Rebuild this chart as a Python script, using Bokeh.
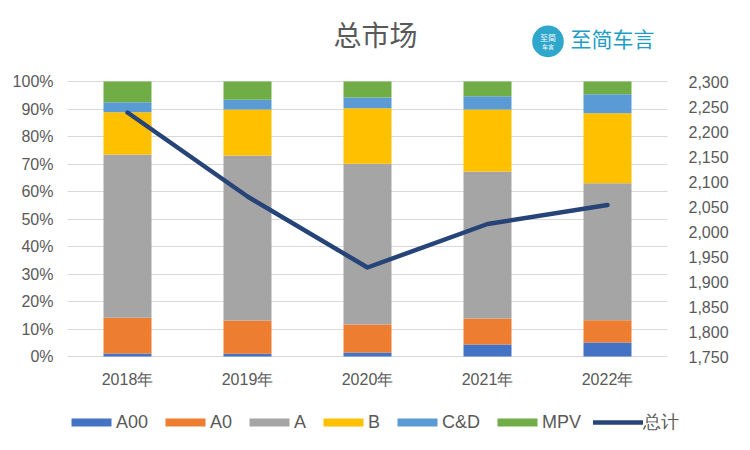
from bokeh.plotting import figure
from bokeh.models import (Range1d, LinearAxis, NumeralTickFormatter, FixedTicker, Legend,
                          LegendItem, Label, BoxAnnotation, ColumnDataSource, FactorRange)
from bokeh.embed import file_html
from bokeh.resources import INLINE

# ---- data ----
years = ["2018年", "2019年", "2020年", "2021年", "2022年"]
segments = ["A00", "A0", "A", "B", "C&D", "MPV"]
a00 = [1.1, 1.0, 1.5, 4.4, 5.1]      # % share
a0 = [13.0, 12.1, 10.1, 9.4, 8.1]
a = [59.4, 60.0, 58.5, 53.5, 49.8]
b = [15.3, 16.7, 20.2, 22.5, 25.5]
cd = [3.7, 3.6, 3.9, 4.8, 6.9]
mpv = [7.5, 6.6, 5.8, 5.4, 4.6]
totals = [2238, 2070, 1928, 2015, 2053]   # 总计
pct_ticks = [0, 0.1, 0.2, 0.3, 0.4, 0.5, 0.6, 0.7, 0.8, 0.9, 1.0]
total_ticks = [1750, 1800, 1850, 1900, 1950, 2000, 2050, 2100, 2150, 2200, 2250, 2300]

colors = ["#4472C4", "#ED7D31", "#A5A5A5", "#FFC000", "#5B9BD5", "#70AD47"]
line_color = "#264478"
text_color = "#595959"
num_font = "Liberation Sans"
cjk_font = "Noto Sans CJK SC"

# ---- layout geometry (page pixels) ----
W, H = 750, 450
plot_left, plot_right = 67, 667      # plot area
plot_bottom, plot_top = 356, 81      # 0% and 100% lines
px_per_unit = plot_bottom - plot_top
px_per_cat = (plot_right - plot_left) / len(years)
pad_units = plot_left / px_per_cat            # categorical padding on each side
frame_w = (plot_right - plot_left) + 2 * plot_left
y_start = -(H - plot_bottom) / px_per_unit
y_end = plot_bottom / px_per_unit

def sx(px):   # page x -> synthetic categorical coordinate
    return (px - plot_left) / px_per_cat

def sy(py):   # page y -> value coordinate
    return (plot_bottom - py) / px_per_unit

series = [a00, a0, a, b, cd, mpv]
data = {"years": years}
for name, vals in zip(segments, series):
    data[name] = [v / 100.0 for v in vals]
data["total"] = totals
source = ColumnDataSource(data)

t_lo, t_hi = total_ticks[0], total_ticks[-1]
t_span = t_hi - t_lo

p = figure(width=W, height=H,
           x_range=FactorRange(*years, range_padding=pad_units,
                               range_padding_units="absolute"),
           y_range=Range1d(y_start, y_end),
           output_backend="svg", toolbar_location=None,
           min_border_left=0, min_border_right=W - frame_w,
           min_border_top=0, min_border_bottom=0)
p.outline_line_color = None
p.background_fill_color = "white"
p.border_fill_color = "white"

bars = p.vbar_stack(segments, x="years", width=0.4, source=source, color=colors,
                    line_color=None)

p.extra_y_ranges = {"tot": Range1d(t_lo + t_span * y_start, t_lo + t_span * y_end)}
ln = p.line(x="years", y="total", source=source, y_range_name="tot",
            line_width=4.5, line_color=line_color, line_cap="round", line_join="round")

# axes (drawn at fixed positions inside the frame)
p.yaxis.ticker = FixedTicker(ticks=pct_ticks)
p.yaxis.formatter = NumeralTickFormatter(format="0%")
p.yaxis.fixed_location = 0
p.xaxis.fixed_location = 0
right = LinearAxis(y_range_name="tot", ticker=FixedTicker(ticks=total_ticks),
                   formatter=NumeralTickFormatter(format="0,0"))
right.fixed_location = len(years)
p.add_layout(right, "right")

for ax in [p.yaxis[0], right, p.xaxis[0]]:
    ax.axis_line_color = None
    ax.major_tick_line_color = None
    ax.minor_tick_line_color = None
    ax.major_tick_out = 0
    ax.major_tick_in = 0
    ax.minor_tick_out = 0
    ax.major_label_text_color = text_color
    ax.major_label_text_font = num_font
    ax.major_label_text_font_size = "16px"
p.yaxis[0].major_label_standoff = 14
right.major_label_standoff = 21
p.xaxis[0].major_label_standoff = 14

p.xgrid.grid_line_color = None
p.ygrid.grid_line_color = "#D9D9D9"
p.ygrid.grid_line_width = 1.2
p.ygrid.cross_bounds = (0, len(years))

# legend
items = [LegendItem(label=s, renderers=[r]) for s, r in zip(segments, bars)]
items.append(LegendItem(label="总计", renderers=[ln]))
legend = Legend(items=items, orientation="horizontal", location=(66, 16),
                glyph_width=50, glyph_height=10, label_standoff=0, spacing=12,
                label_width=0, label_height=0,
                padding=0, margin=0, border_line_color=None, background_fill_alpha=0,
                label_text_font_size="18px", label_text_color=text_color,
                label_text_font=num_font)
p.add_layout(legend, "center")

# title
p.add_layout(Label(x=sx(375), y=sy(33), text="总市场",
                   text_align="center", text_baseline="middle", text_font_size="28px",
                   text_font=cjk_font, text_color=text_color))

# logo
p.add_layout(BoxAnnotation(left=sx(531.7), right=sx(563.3), top=sy(25), bottom=sy(56.7),
                           fill_color="#2FA6CB", fill_alpha=1, line_color=None,
                           border_radius=16))
p.add_layout(Label(x=sx(547.5), y=sy(37), text="至简", text_align="center",
                   text_baseline="middle", text_font_size="8px",
                   text_font=cjk_font, text_color="white"))
p.add_layout(Label(x=sx(547.5), y=sy(46), text="车言", text_align="center",
                   text_baseline="middle", text_font_size="6px",
                   text_font=cjk_font, text_color="white"))
p.add_layout(Label(x=sx(570), y=sy(37), text="至简车言",
                   text_align="left", text_baseline="middle", text_font_size="21px",
                   text_font=cjk_font, text_color="#1E9DC6"))

open("out.html", "w").write(file_html(p, INLINE))
